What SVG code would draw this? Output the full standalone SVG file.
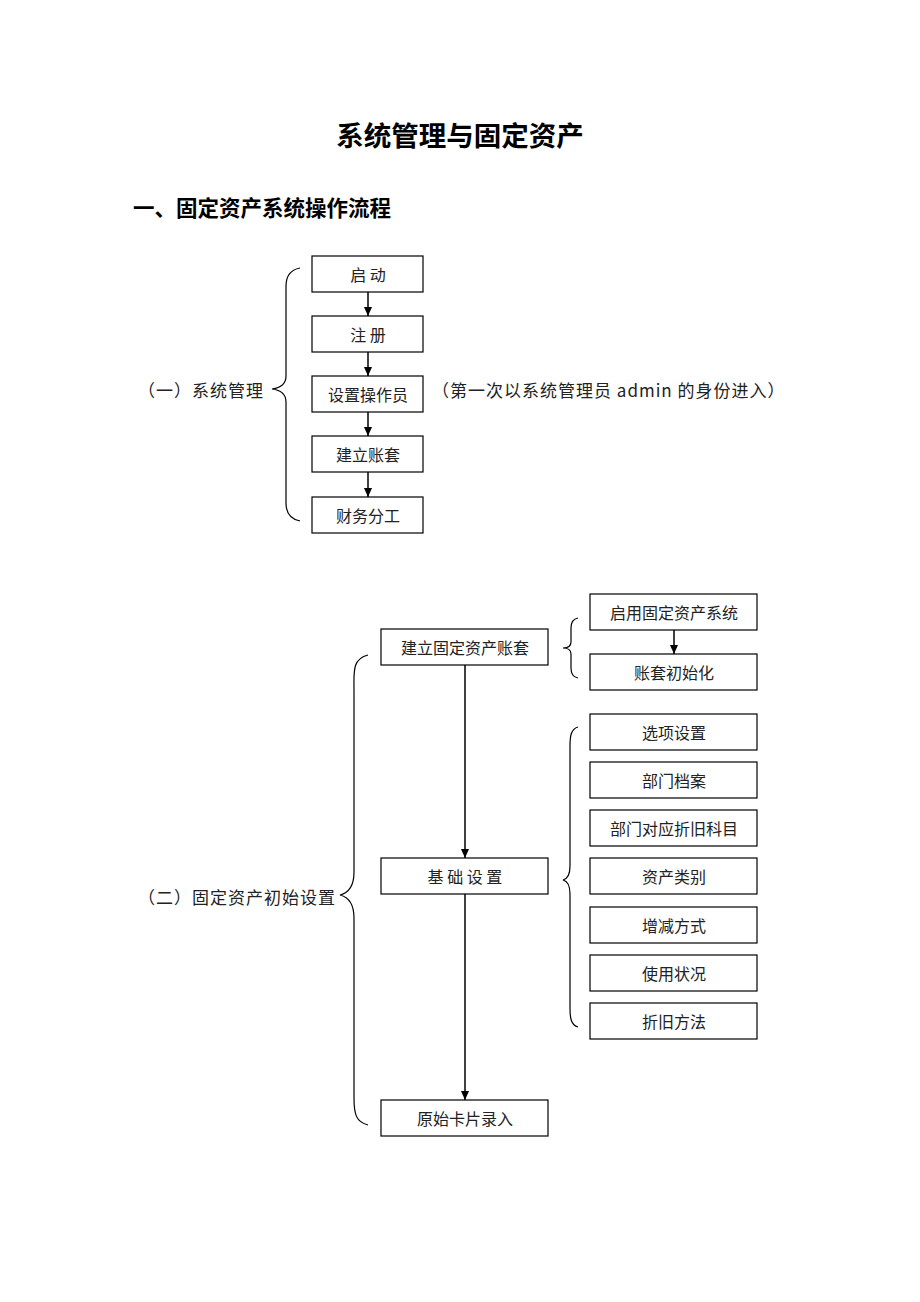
<svg xmlns="http://www.w3.org/2000/svg" width="920" height="1302" viewBox="0 0 920 1302">
<style>
.bg{fill:#fff}
.box{fill:#fff;stroke:#000;stroke-width:1.2}
.t{font-family:"Noto Sans CJK SC","Liberation Sans",sans-serif;font-size:16px;fill:#222;text-anchor:middle;dominant-baseline:central}
.lbl{font-family:"Noto Sans CJK SC","Liberation Sans",sans-serif;font-size:17px;fill:#222;dominant-baseline:central;letter-spacing:1px}
.h{font-family:"Noto Sans CJK SC","Liberation Sans",sans-serif;font-weight:bold;fill:#000}
.brace{fill:none;stroke:#000;stroke-width:1.2}
.ln{fill:none;stroke:#000;stroke-width:1.5;marker-end:url(#ah)}
</style>
<defs>
<marker id="ah" markerWidth="10" markerHeight="10" refX="9" refY="5" orient="auto" markerUnits="userSpaceOnUse">
<path d="M0,1 L9,5 L0,9 Z" fill="#000"/>
</marker>
</defs>
<rect class="bg" x="0" y="0" width="920" height="1302"/>
<text class="h" x="460" y="146" font-size="27.5" text-anchor="middle">系统管理与固定资产</text>
<text class="h" x="133" y="216" font-size="21.5">一、固定资产系统操作流程</text>

<g id="connectors">
<line class="ln" x1="368" y1="292" x2="368" y2="316"/>
<line class="ln" x1="368" y1="352" x2="368" y2="376"/>
<line class="ln" x1="368" y1="412" x2="368" y2="436"/>
<line class="ln" x1="368" y1="472" x2="368" y2="497"/>
<line class="ln" x1="674" y1="630" x2="674" y2="654"/>
<line class="ln" x1="465" y1="665" x2="465" y2="858"/>
<line class="ln" x1="465" y1="894" x2="465" y2="1100"/>
</g>

<g id="brace1"><path class="brace" d="M300,268 C290,270 286,276 286,286 L286,376 C286,384 280,388 272,389 C280,390 286,394 286,402 L286,503 C286,513 290,519 300,521"/></g>
<g id="label1"><text class="lbl" x="138" y="389">（一）系统管理</text></g>
<g id="note1"><text class="lbl" x="432" y="389">（第一次以系统管理员 admin 的身份进入）</text></g>

<g id="n-qidong"><rect class="box" x="312" y="256" width="111" height="36"/><text class="t" x="368" y="274">启 动</text></g>
<g id="n-zhuce"><rect class="box" x="312" y="316" width="111" height="36"/><text class="t" x="368" y="334">注 册</text></g>
<g id="n-czy"><rect class="box" x="312" y="376" width="111" height="36"/><text class="t" x="368" y="394">设置操作员</text></g>
<g id="n-zt"><rect class="box" x="312" y="436" width="111" height="36"/><text class="t" x="368" y="454">建立账套</text></g>
<g id="n-cwfg"><rect class="box" x="312" y="497" width="111" height="36"/><text class="t" x="368" y="515">财务分工</text></g>

<g id="brace2"><path class="brace" d="M368,655 C352,659 354,672 354,690 L354,872 C354,886 348,893 340,895 C348,897 354,904 354,918 L354,1098 C354,1114 356,1122 368,1125"/></g>
<g id="label2"><text class="lbl" x="138" y="896">（二）固定资产初始设置</text></g>

<g id="n-jlgdzc"><rect class="box" x="381" y="629" width="167" height="36"/><text class="t" x="465" y="647">建立固定资产账套</text></g>
<g id="n-jcsz"><rect class="box" x="381" y="858" width="167" height="36"/><text class="t" x="465" y="876">基 础 设 置</text></g>
<g id="n-ysjp"><rect class="box" x="381" y="1100" width="167" height="36"/><text class="t" x="465" y="1118">原始卡片录入</text></g>

<g id="brace3"><path class="brace" d="M578,618 C572,619 571,623 571,628 L571,642 C571,646 568,648 563,648 C568,648 571,650 571,654 L571,668 C571,673 572,677 578,678"/></g>
<g id="brace4"><path class="brace" d="M578,727 C571,729 570,736 570,746 L570,866 C570,875 567,879 563,880 C567,881 570,885 570,894 L570,1008 C570,1018 571,1025 578,1027"/></g>

<g id="n-qy"><rect class="box" x="590" y="594" width="167" height="36"/><text class="t" x="674" y="612">启用固定资产系统</text></g>
<g id="n-csh"><rect class="box" x="590" y="654" width="167" height="36"/><text class="t" x="674" y="672">账套初始化</text></g>
<g id="n-xx"><rect class="box" x="590" y="714" width="167" height="36"/><text class="t" x="674" y="732">选项设置</text></g>
<g id="n-bmda"><rect class="box" x="590" y="762" width="167" height="36"/><text class="t" x="674" y="780">部门档案</text></g>
<g id="n-bmdy"><rect class="box" x="590" y="810" width="167" height="36"/><text class="t" x="674" y="828">部门对应折旧科目</text></g>
<g id="n-zclb"><rect class="box" x="590" y="858" width="167" height="36"/><text class="t" x="674" y="876">资产类别</text></g>
<g id="n-zjfs"><rect class="box" x="590" y="907" width="167" height="36"/><text class="t" x="674" y="925">增减方式</text></g>
<g id="n-syzk"><rect class="box" x="590" y="955" width="167" height="36"/><text class="t" x="674" y="973">使用状况</text></g>
<g id="n-zjff"><rect class="box" x="590" y="1003" width="167" height="36"/><text class="t" x="674" y="1021">折旧方法</text></g>
</svg>
